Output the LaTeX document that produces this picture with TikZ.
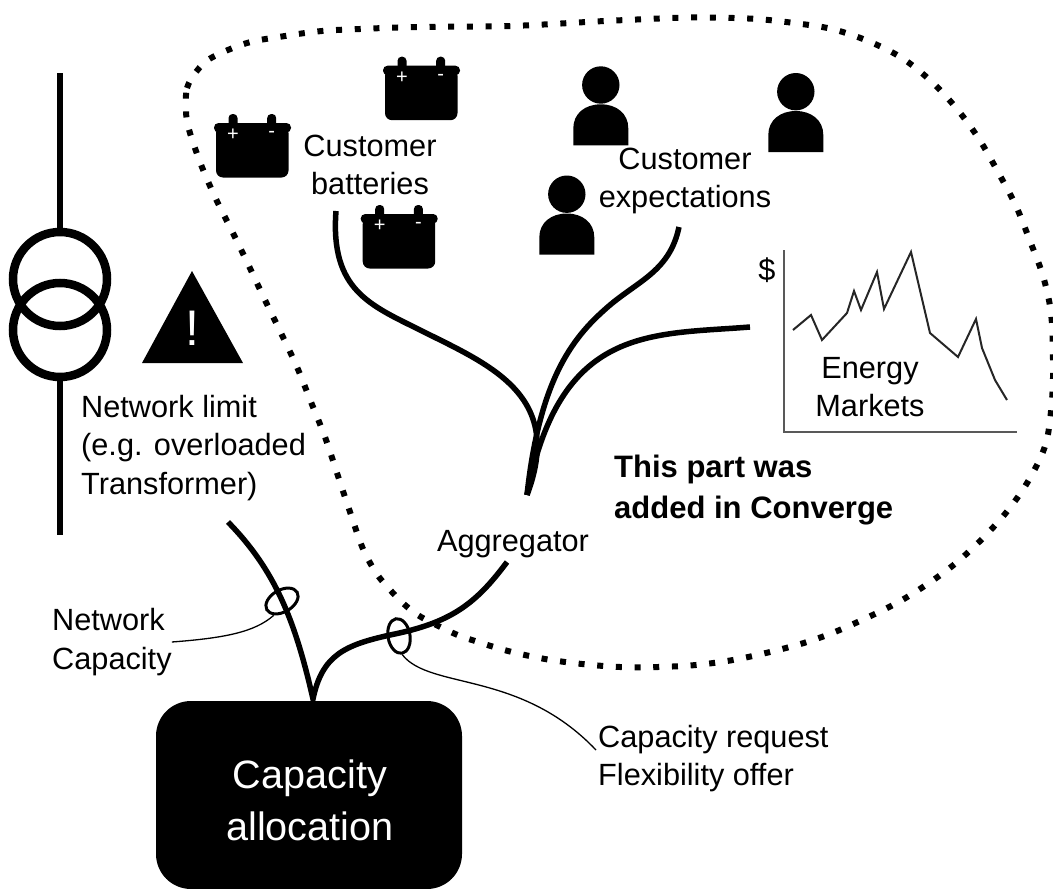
\documentclass[tikz,border=0pt]{standalone}
\usepackage{fontspec}
\setmainfont{Liberation Sans}
\usetikzlibrary{shapes.geometric,positioning}
\tikzset{
  label/.style   = {inner sep=0pt, font=\fontsize{30.7}{38.5}\selectfont},
  boldtext/.style = {label, align=left, font=\fontsize{31}{41}\selectfont\bfseries},
  wire/.style    = {line width=5.5pt, line join=miter, miter limit=20},
  thinwire/.style = {line width=1.3pt},
  ring/.style    = {draw, ellipse, line width=3pt, inner sep=0pt, minimum width=35pt, minimum height=22pt},
  pole/.style    = {line width=5.5pt},
  coil/.style    = {draw, circle, line width=8.5pt, inner sep=0pt, minimum size=94pt},
  allocbox/.style = {fill=black, rounded corners=35pt, inner sep=0pt,
                  minimum width=306pt, minimum height=188pt},
  alloctext/.style = {text=white, align=center, inner sep=0pt, font=\fontsize{39.6}{52}\selectfont},
  polarity/.style = {text=white, inner sep=0pt, font=\fontsize{20}{20}\selectfont},
  battery/.pic = {
    \fill[rounded corners=4pt] (14.5,0) rectangle (23.5,15);
    \fill[rounded corners=4pt] (53.2,0) rectangle (62.2,15);
    \fill[rounded corners=4.5pt] (0,9) rectangle (77,18.5);
    \fill[rounded corners=7pt] (2,12) rectangle (74.5,63.5);
    \node[polarity] (-plus) at (19,21) {+};
    \node[polarity] (-minus) at (57.7,20.5) {-};
  },
  person/.pic = {
    \fill (27.5,18.7) circle (18.7);
    \fill (0,79) -- (0,62) .. controls (0,47) and (12,38) .. (27.5,38)
      .. controls (43,38) and (55,47) .. (55,62) -- (55,79) -- cycle;
  }
}

\begin{document}
\begin{tikzpicture}[x=1pt,y=-1pt]
\useasboundingbox (0,0) rectangle (1053,889);

% the dotted part
\draw[line width=6pt, dash pattern=on 6pt off 12.7pt] plot[smooth cycle, tension=0.55] coordinates {
  (186,107) (187,88) (196,72) (211,58) (247,43) (285,36) (322,31) (360,29) (417,27) (511,26)
  (605,21) (681,17.7) (719,17.7) (757,19) (794,23) (832,29) (868,41) (902,58) (932,82) (957,109)
  (979,139) (998,172) (1016,206) (1030,241) (1043,276) (1051,313) (1053,360) (1052,400) (1046,443)
  (1030,478) (1009,509) (984,537) (956,563) (926,585) (893,605) (842,629) (807,642) (770,652)
  (733,660) (696,665) (658,667) (620,667) (582,664) (545,659) (508,651) (472,640) (453,633)
  (421,617) (405,605) (392,592) (379,577) (369,561) (361,544) (349,509) (337,473) (325,437)
  (311,402) (297,367) (281,333) (264,298) (248,264) (232,231) (215,197) (200,162) (188,126)};

% transformer
\node[coil] (c1) at (60,279) {};
\node[coil] (c2) at (60,330) {};
\coordinate (pt) at (60,73);
\coordinate (pb) at (60,535);
\draw[pole] (pt) -- (c1.north);
\draw[pole] (c2.south) -- (pb);

% warning sign
\fill (192,271) -- (243,363) -- (142,363) -- cycle;
\node[text=white, inner sep=0pt, font=\fontsize{50}{50}\selectfont] (warn) at (192,328) {!};

% batteries and people
\foreach \name/\px/\py in {b1/214/114, b2/383/56.7, b3/360.7/205}
  \pic (\name) at (\px,\py) {battery};
\foreach \name/\px/\py in {p1/573.3/66.3, p2/768.3/73, p3/539.3/175.5}
  \pic (\name) at (\px,\py) {person};

% market chart
\draw[line width=2pt, draw=black!65] (784,250) -- (784,432) -- (1017,432);
\draw[line width=2pt, draw=black!85] (793,330) -- (811,315) -- (822,340) -- (847,313) -- (854,291)
  -- (861,310) -- (877,272) -- (884,309) -- (911,252) -- (930,333) -- (958,357) -- (976,319)
  -- (982,348) -- (995,380) -- (1007,400);
\node[label] (dollar) at (767,270) {\$};

% labels
\node[label, align=center] (cb) at (370,165) {Customer\\batteries};
\node[label, align=center] (ce) at (685,181) {Customer\\expectations};
\node[label, align=center] (em) at (870,387) {Energy\\Markets};
\node[label, align=left, anchor=west] (nl) at (81,448) {Network limit\\(e.g. overloaded\\Transformer)};
\node[boldtext, anchor=west] (tp) at (614,490) {This part was\\added in Converge};
\node[label] (ag) at (513,544) {Aggregator};
\node[label, align=left, anchor=west] (nc) at (52,642) {Network\\Capacity};
\node[label, align=left, anchor=west] (cr) at (598,758.5) {Capacity request\\Flexibility offer};
\node[allocbox] (ca) at (309,795) {};
\node[alloctext] (cat) at (310,800.5) {Capacity\\allocation};

% lines towards the aggregator
\coordinate (merge) at (527,495);
\coordinate (w1) at (336,211);
\coordinate (w2) at (679,227);
\coordinate (w3) at (750,327);
\draw[wire] (w1) .. controls (330,290) and (370,305) .. (420,330)
  .. controls (490,365) and (565,395) .. (merge);
\draw[wire] (w2) .. controls (670,270) and (640,280) .. (610,305)
  .. controls (575,335) and (540,375) .. (merge);
\draw[wire] (w3) .. controls (650,335) and (560,325) .. (merge);

% lines towards the allocation
\coordinate (w4) at (228,522);
\coordinate (w5) at (507,562);
\draw[wire] (w4) .. controls (275,570) and (295,620) .. (313,699)
  .. controls (322,655) and (345,645) .. (390,635) .. controls (450,623) and (475,605) .. (w5);

% rings and their leaders
\node[ring, rotate=30] (r1) at (282,601) {};
\node[ring, rotate=-80] (r2) at (399,636) {};
\coordinate (crend) at (596,750);
\draw[thinwire] (nc.east) .. controls (225,638) and (255,632) .. (r1.210);
\draw[thinwire] (r2.east) .. controls (430,690) and (520,670) .. (crend);

\end{tikzpicture}
\end{document}
